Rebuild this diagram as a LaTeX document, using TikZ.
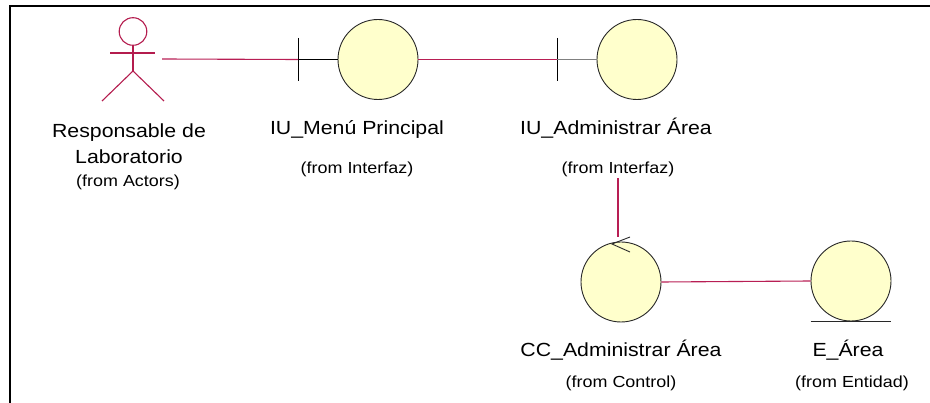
\documentclass[tikz,border=0pt]{standalone}
\usepackage{fontspec}
\setmainfont{Liberation Sans}
\definecolor{objfill}{RGB}{255,255,204}
\definecolor{objline}{RGB}{40,40,40}
\definecolor{linkred}{RGB}{184,30,84}
\definecolor{actorred}{RGB}{180,28,78}
\newcommand{\maintxt}[1]{\scalebox{1.12}[1]{\fontsize{19}{22}\selectfont #1}}
\newcommand{\subtxt}[1]{\scalebox{1.12}[1]{\fontsize{16}{19}\selectfont #1}}
\tikzset{
  obj/.style={circle, draw=objline, fill=objfill, line width=0.9pt, minimum size=80pt, inner sep=0pt},
  link/.style={draw=linkred, line width=1.1pt},
  plain/.style={draw=black, line width=1pt},
  greyline/.style={draw=gray, line width=1.1pt},
  stick/.style={draw=actorred, line width=1.1pt},
  lbl/.style={anchor=base, inner sep=0pt, text=black},
  frameline/.style={draw=black, line width=2pt}
}
\begin{document}
\begin{tikzpicture}[x=1pt, y=-1pt]
  \useasboundingbox (0,0) rectangle (930,403);
  % diagram frame (top and left edges)
  \draw[frameline] (930,6) -- (10,6) -- (10,403);

  % actor: Responsable de Laboratorio
  \node[inner sep=0pt, minimum width=58pt, minimum height=84pt] (actor) at (133,59) {};
  \draw[stick] (133,31.5) circle[radius=13.8pt];
  \draw[stick] (133,45) -- (133,71);
  \draw[stick] (110,53) -- (155,53);
  \draw[stick] (102,101) -- (133,71) -- (164,101);
  \node[lbl] (actName1) at (129,137.8) {\maintxt{Responsable de}};
  \node[lbl] (actName2) at (129,163.8) {\maintxt{Laboratorio}};
  \node[lbl] (actPkg) at (128,186.7) {\subtxt{(from Actors)}};

  % boundary: IU_Menu Principal
  \node[obj] (menu) at (378,59.5) {};
  \coordinate (menuBar) at (298,59.5);
  \draw[plain] ([yshift=21.5pt]menuBar) -- ([yshift=-21.5pt]menuBar);
  \draw[plain] (menuBar) -- (menu.west);
  \node[lbl] (menuName) at (357,134.8) {\maintxt{IU\_Menú Principal}};
  \node[lbl] (menuPkg) at (357,173.7) {\subtxt{(from Interfaz)}};

  % boundary: IU_Administrar Area
  \node[obj] (admin) at (637,59.5) {};
  \coordinate (adminBar) at (557,59.5);
  \draw[plain] ([yshift=21.5pt]adminBar) -- ([yshift=-21.5pt]adminBar);
  \draw[greyline] (adminBar) -- (admin.west);
  \node[lbl] (adminName) at (616,134.8) {\maintxt{IU\_Administrar Área}};
  \node[lbl] (adminPkg) at (618,173.7) {\subtxt{(from Interfaz)}};

  % control: CC_Administrar Area
  \node[obj] (ctrl) at (621,282) {};
  \draw[draw=objline, line width=0.9pt] (630,237) -- (612,244) -- (630,252);
  \node[lbl] (ctrlName) at (621,356.8) {\maintxt{CC\_Administrar Área}};
  \node[lbl] (ctrlPkg) at (621,387.7) {\subtxt{(from Control)}};

  % entity: E_Area
  \node[obj] (ent) at (851,281) {};
  \draw[draw=objline, line width=1pt] (ent.west |- ent.south) -- (ent.east |- ent.south);
  \node[lbl] (entName) at (848,356.8) {\maintxt{E\_Área}};
  \node[lbl] (entPkg) at (852,387.7) {\subtxt{(from Entidad)}};

  % associations
  \draw[link] (actor.east) -- (menuBar);
  \draw[link] (menu.east) -- (adminBar);
  \draw[link] ([yshift=-1pt]adminPkg.south) -- ([yshift=5pt]ctrl.north -| adminPkg.south);
  \draw[link] (ctrl.east) -- (ent.west);
\end{tikzpicture}
\end{document}
